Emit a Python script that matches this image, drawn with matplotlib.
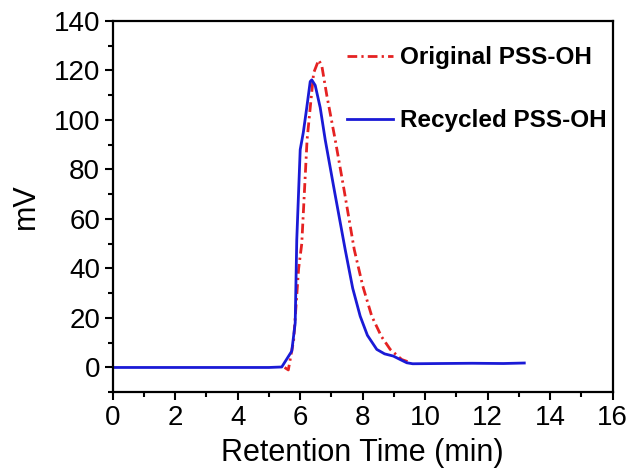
import matplotlib
matplotlib.use('Agg')
import matplotlib.pyplot as plt
from matplotlib.ticker import MultipleLocator

plt.rcParams['font.family'] = ['Liberation Sans', 'DejaVu Sans']

# Recycled PSS-OH (blue, solid)
rec_t = [0.0, 5.0, 5.41, 5.6, 5.73, 5.84, 5.89, 6.0, 6.1, 6.21, 6.32, 6.37,
         6.48, 6.64, 6.8, 7.1, 7.44, 7.68, 7.92, 8.15, 8.45, 8.7, 8.98,
         9.2, 9.41, 9.6, 10.5, 11.5, 12.5, 13.17]
rec_mv = [0.0, 0.0, 0.2, 4.0, 6.6, 18.0, 51.6, 88.0, 95.0, 105.0, 115.5, 116.2,
          114.0, 105.0, 92.0, 71.0, 47.6, 32.0, 20.7, 13.0, 7.3, 5.5, 4.6,
          3.2, 1.9, 1.5, 1.6, 1.7, 1.6, 1.8]

# Original PSS-OH (red, dash-dot)
orig_t = [5.5, 5.62, 5.79, 5.95, 6.05, 6.22, 6.43, 6.59, 6.69, 6.85, 7.12,
          7.4, 7.73, 8.0, 8.29, 8.6, 8.88, 9.25, 9.52]
orig_mv = [0.0, -1.0, 11.0, 40.0, 50.0, 92.0, 119.0, 124.2, 122.0, 110.0,
           92.0, 72.0, 47.6, 33.0, 20.7, 12.5, 7.3, 3.2, 2.0]

fig = plt.figure(figsize=(6.33, 4.76), dpi=100)
ax = fig.add_axes([0.178, 0.176, 0.79, 0.780])

ax.plot(orig_t, orig_mv, color='#e52222', lw=2.0, dashes=(3.5, 1.5, 0.8, 1.5),
        label='Original PSS-OH')
ax.plot(rec_t, rec_mv, color='#1a1ad6', lw=2.0, label='Recycled PSS-OH')

ax.set_xlim(0, 16)
ax.set_ylim(-10, 140)
ax.xaxis.set_major_locator(MultipleLocator(2))
ax.xaxis.set_minor_locator(MultipleLocator(1))
ax.yaxis.set_major_locator(MultipleLocator(20))
ax.yaxis.set_minor_locator(MultipleLocator(10))
ax.tick_params(which='both', direction='out', width=1.5, labelsize=20, pad=3)
ax.tick_params(which='major', length=6)
ax.tick_params(which='minor', length=3.5)
for s in ax.spines.values():
    s.set_linewidth(1.6)

ax.set_xlabel('Retention Time (min)', fontsize=22, labelpad=5)
ax.set_ylabel('mV', fontsize=22, labelpad=9)

ax.legend(loc='upper left', bbox_to_anchor=(0.468, 0.932), frameon=False,
          prop={'weight': 'bold', 'size': 17.5}, handlelength=1.9,
          handletextpad=0.3, labelspacing=1.65, borderpad=0, borderaxespad=0)

fig.savefig('out.png', dpi=100, facecolor='white')
